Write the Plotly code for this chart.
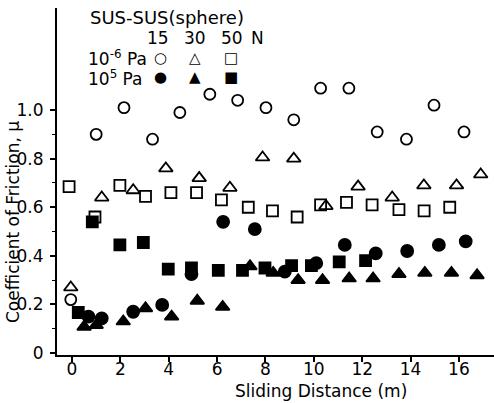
import plotly.graph_objects as go

# ---- data ----
vac_15_d = [-0.05, 1.0, 2.15, 3.33, 4.46, 5.70, 6.85, 8.02, 9.17, 10.28, 11.45, 12.62, 13.83, 14.97, 16.21]
vac_15_mu = [0.22, 0.90, 1.01, 0.88, 0.99, 1.065, 1.04, 1.01, 0.96, 1.09, 1.09, 0.91, 0.88, 1.02, 0.91]

vac_30_d = [-0.05, 1.23, 2.53, 3.88, 5.26, 6.53, 7.88, 9.17, 10.5, 11.83, 13.24, 14.55, 15.9, 16.9]
vac_30_mu = [0.27, 0.64, 0.67, 0.76, 0.72, 0.68, 0.805, 0.80, 0.605, 0.685, 0.64, 0.69, 0.69, 0.735]

vac_50_d = [-0.12, 0.95, 1.98, 3.04, 4.09, 5.15, 6.18, 7.29, 8.29, 9.31, 10.28, 11.35, 12.41, 13.52, 14.56, 15.62]
vac_50_mu = [0.685, 0.56, 0.69, 0.645, 0.66, 0.66, 0.63, 0.60, 0.585, 0.56, 0.61, 0.62, 0.61, 0.59, 0.585, 0.60]

air_15_d = [0.68, 1.23, 2.53, 3.73, 4.94, 6.25, 7.56, 8.8, 10.1, 11.28, 12.56, 13.86, 15.17, 16.28]
air_15_mu = [0.15, 0.143, 0.17, 0.198, 0.325, 0.54, 0.51, 0.335, 0.37, 0.445, 0.41, 0.42, 0.445, 0.46]

air_30_d = [0.5, 1.0, 2.12, 3.04, 4.12, 5.18, 6.23, 7.36, 8.32, 9.35, 10.36, 11.46, 12.45, 13.52, 14.59, 15.69, 16.75]
air_30_mu = [0.108, 0.115, 0.13, 0.184, 0.15, 0.215, 0.19, 0.357, 0.33, 0.30, 0.30, 0.307, 0.307, 0.325, 0.33, 0.33, 0.32]

air_50_d = [0.26, 0.84, 1.98, 2.95, 3.98, 4.94, 6.05, 7.05, 7.98, 9.08, 9.9, 11.05, 12.14]
air_50_mu = [0.167, 0.54, 0.445, 0.455, 0.345, 0.35, 0.34, 0.34, 0.35, 0.36, 0.36, 0.375, 0.38]

x_ticks = [0, 2, 4, 6, 8, 10, 12, 14, 16]
y_ticks = [0, 0.2, 0.4, 0.6, 0.8, 1.0]
y_tick_text = ["0", "0.2", "0.4", "0.6", "0.8", "1.0"]
y_minor = [0.1, 0.3, 0.5, 0.7, 0.9]

FONT = "DejaVu Sans"

fig = go.Figure()

series = [
    (vac_15_d, vac_15_mu, "circle-open", 11),
    (vac_30_d, vac_30_mu, "triangle-up-open", 12),
    (vac_50_d, vac_50_mu, "square-open", 11),
    (air_15_d, air_15_mu, "circle", 12),
    (air_30_d, air_30_mu, "triangle-up", 12),
    (air_50_d, air_50_mu, "square", 11),
]
for d, mu, sym, sz in series:
    fig.add_trace(go.Scatter(
        x=d, y=mu, mode="markers",
        marker=dict(symbol=sym, size=sz, color="black",
                    line=dict(color="black", width=1.8)),
        showlegend=False, cliponaxis=False,
    ))

fig.update_xaxes(
    range=[-0.62, 17.45], tickvals=x_ticks, ticks="outside", ticklen=5,
    tickwidth=1.5, tickcolor="black", showline=True, linecolor="black",
    linewidth=2, showgrid=False, zeroline=False, ticklabelstandoff=-7,
    tickfont=dict(family=FONT, size=17, color="black"),
)
fig.update_yaxes(
    range=[-0.008, 1.42], tickvals=y_ticks, ticktext=y_tick_text,
    ticks="outside", ticklen=5, tickwidth=1.5, tickcolor="black",
    showline=True, linecolor="black", linewidth=2, showgrid=False,
    zeroline=False, ticklabelstandoff=3,
    minor=dict(tickvals=y_minor, ticks="outside", ticklen=3,
               tickcolor="black", tickwidth=1.2),
    tickfont=dict(family=FONT, size=17, color="black"),
)

ann = []
def txt(x, y, s, size=17, xanchor="left"):
    ann.append(dict(x=x, y=y, xref="paper", yref="paper", text=s,
                    showarrow=False, xanchor=xanchor, yanchor="middle",
                    font=dict(family=FONT, size=size, color="black")))

W, H = 494, 403
L, R, T, B = 57, 0, 8, 48
pw, ph = W - L - R, H - T - B
def px(x):
    return (x - L) / pw
def py(y):
    return (H - B - y) / ph

txt(px(88), py(18), "SUS-SUS(sphere)", size=18)
txt(px(158), py(38), "15", xanchor="center")
txt(px(195), py(38), "30", xanchor="center")
txt(px(232), py(38), "50", xanchor="center")
txt(px(249), py(38), "N")
txt(px(86), py(58), "10<sup>-6</sup> Pa")
txt(px(86), py(78), "10<sup>5</sup> Pa")
for sx, s1, s2, sz in [(160, "○", "●", 15), (195, "△", "▲", 15), (231, "□", "■", 15)]:
    txt(px(sx), py(58), s1, size=sz, xanchor="center")
    txt(px(sx), py(77), s2, size=sz, xanchor="center")

ann.append(dict(x=px(321), y=py(391), xref="paper", yref="paper",
                text="Sliding Distance (m)", showarrow=False,
                xanchor="center", yanchor="middle",
                font=dict(family=FONT, size=17, color="black")))
ann.append(dict(x=px(13), y=py(222), xref="paper", yref="paper",
                text="Coefficient of Friction, μ", showarrow=False,
                textangle=-90, xanchor="center", yanchor="middle",
                font=dict(family=FONT, size=17, color="black")))

fig.update_layout(
    width=W, height=H, margin=dict(l=L, r=R, t=T, b=B),
    paper_bgcolor="white", plot_bgcolor="white",
    annotations=ann,
)

fig.write_html("out.html")
